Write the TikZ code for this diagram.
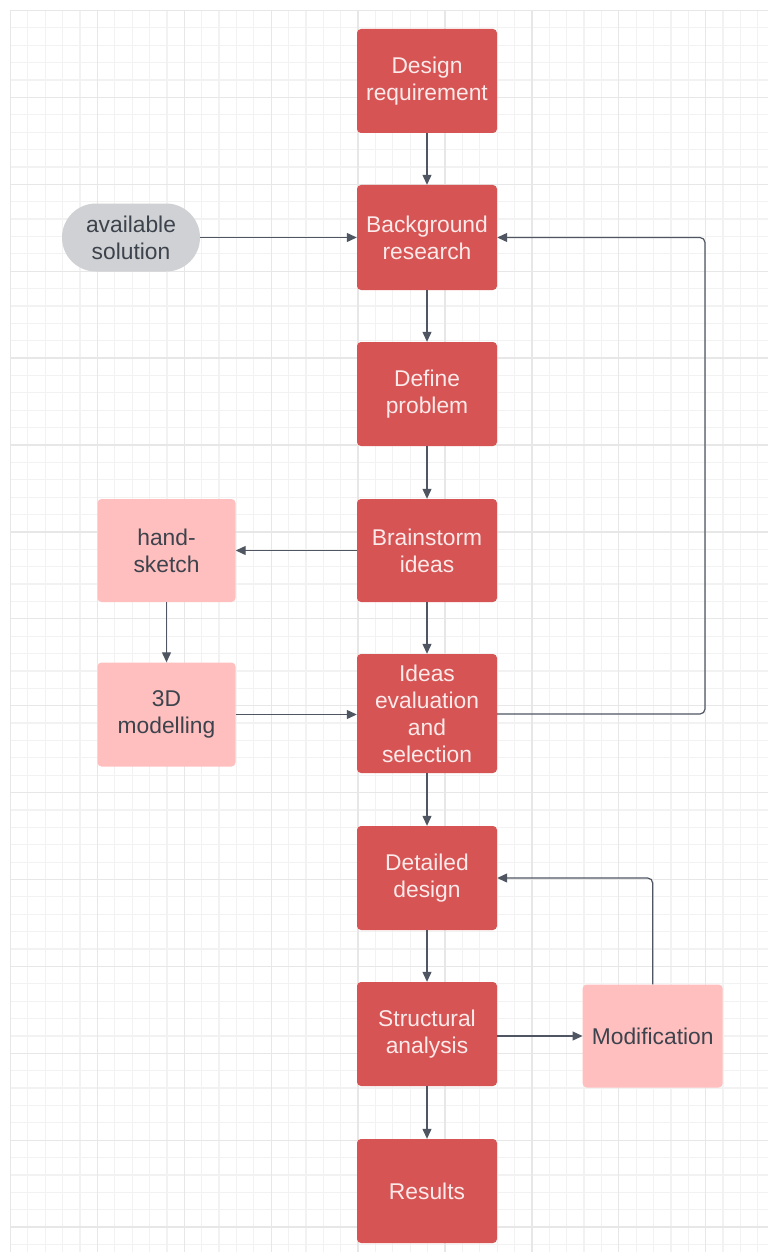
\documentclass[tikz,border=0pt]{standalone}
\usepackage{fontspec}
\setmainfont{Liberation Sans}
\usetikzlibrary{arrows.meta,calc}
\definecolor{boxred}{HTML}{D65454}
\definecolor{boxpink}{HTML}{FFBFBF}
\definecolor{pillgrey}{HTML}{D0D1D4}
\definecolor{txtlight}{HTML}{FCE9E9}
\definecolor{txtdark}{HTML}{3D434C}
\definecolor{linecol}{HTML}{4F5661}
\definecolor{gridminor}{HTML}{F2F2F2}
\definecolor{gridmajor}{HTML}{E7E7E7}
\tikzset{
  base/.style={inner sep=0pt, align=center, font=\fontsize{22.8}{27}\selectfont, rounded corners=4pt},
  redbox/.style={base, fill=boxred, text=txtlight, minimum width=140pt, minimum height=104pt},
  pinkbox/.style={base, fill=boxpink, text=txtdark, minimum width=138pt, minimum height=103pt},
  pill/.style={base, fill=pillgrey, text=txtdark, minimum width=138pt, minimum height=68pt, rounded corners=34pt},
  arr/.style={draw=linecol, line width=1.2pt, -{Triangle[length=10pt,width=9pt]}},
}
\begin{document}
\begin{tikzpicture}[x=1pt,y=-1pt]
\useasboundingbox (0,0) rectangle (768,1252);
\fill[white] (0,0) rectangle (768,1252);
% grid
\foreach \i in {0,...,43}{
  \pgfmathsetmacro{\gx}{10.5+\i*17.38}
  \draw[gridminor, line width=1.2pt] (\gx,10.5) -- (\gx,1252);
}
\foreach \j in {0,...,71}{
  \pgfmathsetmacro{\gy}{10.5+\j*17.38}
  \draw[gridminor, line width=1.2pt] (10.5,\gy) -- (768,\gy);
}
\foreach \i in {0,5,...,40}{
  \pgfmathsetmacro{\gx}{10.5+\i*17.38}
  \draw[gridmajor, line width=1.3pt] (\gx,10.5) -- (\gx,1252);
}
\foreach \j in {0,5,...,70}{
  \pgfmathsetmacro{\gy}{10.5+\j*17.38}
  \draw[gridmajor, line width=1.3pt] (10.5,\gy) -- (768,\gy);
}
% nodes
\node[redbox] (design) at (427,81) {Design\\requirement};
\node[redbox, minimum height=105pt] (background) at (427,237.5) {Background\\research};
\node[redbox] (define) at (427,394) {Define\\problem};
\node[redbox, minimum height=103pt] (brainstorm) at (427,550.5) {Brainstorm\\ideas};
\node[redbox, minimum height=119pt] (ideas) at (427,713.5) {Ideas\\evaluation\\and\\selection};
\node[redbox] (detailed) at (427,878) {Detailed\\design};
\node[redbox] (structural) at (427,1034) {Structural\\analysis};
\node[redbox] (results) at (427,1191) {Results};
\node[pill] (avail) at (131,237.5) {available\\solution};
\node[pinkbox] (hand) at (166.5,550.5) {hand-\\sketch};
\node[pinkbox, minimum height=104pt] (model) at (166.5,714.5) {3D\\modelling};
\node[pinkbox, minimum width=140pt] (modif) at (652.7,1036) {Modification};
\coordinate (fbx) at (705,714);
% connectors
\draw[arr] (design) -- (background);
\draw[arr] (background) -- (define);
\draw[arr] (define) -- (brainstorm);
\draw[arr] (brainstorm) -- (ideas);
\draw[arr] (ideas) -- (detailed);
\draw[arr] (detailed) -- (structural);
\draw[arr] (structural) -- (results);
\draw[arr] (avail.east) -- (background.west);
\draw[arr] (brainstorm.west) -- (hand.east);
\draw[arr] (hand) -- (model);
\draw[arr] (model.east) -- (model.east -| ideas.west);
\draw[arr, rounded corners=5pt] (ideas.east |- fbx) -- (fbx) |- (background.east);
\draw[arr] (structural.east |- modif.west) -- (modif.west);
\draw[arr, rounded corners=5pt] (modif.north) |- (detailed.east);
\end{tikzpicture}
\end{document}
